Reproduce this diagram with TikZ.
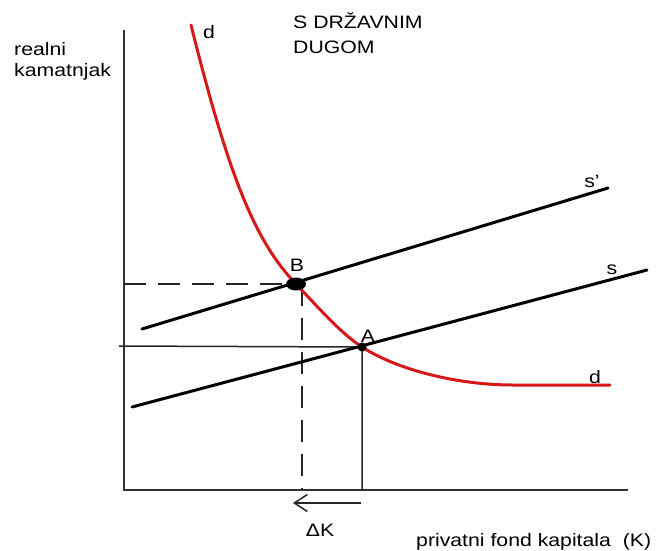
\documentclass[tikz,border=0pt]{standalone}
\usepackage{fontspec}
\setmainfont[FakeStretch=1.18]{Liberation Sans}
\usetikzlibrary{arrows.meta}
\definecolor{krivulja}{RGB}{214,24,24}

\begin{document}
\begin{tikzpicture}[x=1pt, y=-1pt, >={Straight Barb[length=13pt,width=17pt]},
    font=\fontsize{18}{21}\selectfont,
    os/.style={line width=2pt, black!80},
    pravac/.style={line width=3pt, line cap=round},
    pomocna/.style={line width=1.5pt, black!85},
    crtkano/.style={line width=1.5pt, black!85, dash pattern=on 22pt off 12pt},
    oznaka/.style={inner sep=0pt}]
    \useasboundingbox (0,0) rectangle (660,550);

    % Osi
    \coordinate (O) at (124,490);
    \coordinate (Yvrh) at (124,30);
    \coordinate (Xkraj) at (628,490);
    \draw[os] (Yvrh) -- (O) -- (Xkraj);

    % Ravnoteze A i B
    \coordinate (B) at (296,284);
    \coordinate (A) at (362,347);

    % Pomocne linije
    \coordinate (Ay) at (119,346);
    \coordinate (Ax) at (362,490);
    \coordinate (By) at (124,284);
    \coordinate (Bv) at (302,284);
    \coordinate (Bx) at (302,490);
    \draw[pomocna] (Ay) -- (A) -- (Ax);
    \draw[crtkano] (By) -- (B);
    \draw[crtkano] (Bv) -- (Bx);

    % Ponuda s i s'
    \coordinate (s0a) at (132,407);
    \coordinate (s0b) at (647,270);
    \coordinate (s1a) at (142,329);
    \coordinate (s1b) at (608,188);
    \draw[pravac] (s0a) -- (s0b);
    \draw[pravac] (s1a) -- (s1b);

    % Potraznja d
    \coordinate (dvrh) at (191,25);
    \coordinate (dkoljeno) at (513,385);
    \coordinate (dkraj) at (610,385);
    \draw[pravac, krivulja] (dvrh) .. controls (228.8,176.3) and (254.8,241) .. (B)
        .. controls (318,307.1) and (340,332.7) .. (A)
        .. controls (397.1,369.8) and (457.5,385) .. (dkoljeno) -- (dkraj);

    % Tocke
    \fill (B) ellipse (10 and 6.5);
    \fill (A) circle (4.5);

    % Pomak kapitala
    \coordinate (dKa) at (361,503);
    \coordinate (dKb) at (293,503);
    \draw[->, pomocna] (dKa) -- (dKb);

    % Oznake
    \node[oznaka] (Bl) at (297,265) {B};
    \node[oznaka] (Al) at (368,336) {A};
    \node[oznaka] (dgore) at (209,32) {d};
    \node[oznaka] (ddolje) at (595,377) {d};
    \node[oznaka] (s1l) at (592,181) {s'};
    \node[oznaka] (s0l) at (612,270) {s};
    \node[oznaka] (dK) at (320,530) {ΔK};
    \node[oznaka, anchor=north west, align=left] (yos) at (14,42) {realni\\kamatnjak};
    \node[oznaka, anchor=north west, align=left, font=\fontsize{18}{25}\selectfont] (naslov) at (293,13) {S DRŽAVNIM\\DUGOM};
    \node[oznaka, anchor=base west] (xos) at (416,546) {privatni fond kapitala\ \ (K)};
\end{tikzpicture}
\end{document}
